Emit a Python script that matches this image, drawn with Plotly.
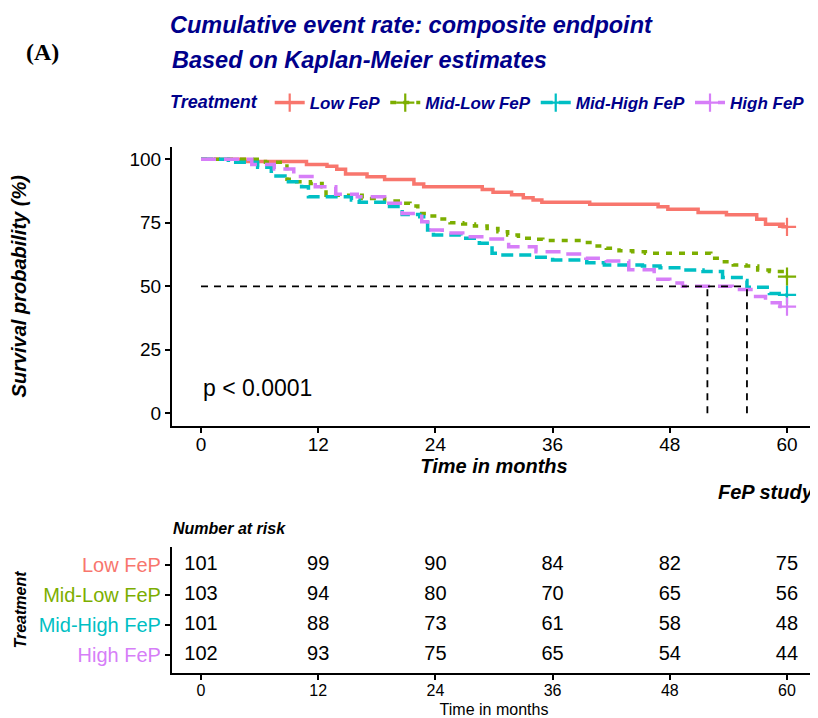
import plotly.graph_objects as go

# ---------------- data ----------------
groups = ["Low FeP", "Mid-Low FeP", "Mid-High FeP", "High FeP"]
colors = ["#F8766D", "#7CAE00", "#00BFC4", "#D67EF8"]
dashes = ["solid", "6px,7px", "12px,6px", "15px,8px"]

# Kaplan-Meier step curves (time in months, survival %)
low_t = [0, 4.5, 10.8, 12.9, 13.9, 14.8, 17.0, 18.8, 21.8, 22.8, 28.8, 29.9, 31.8,
         33.0, 34.0, 34.9, 39.8, 46.8, 47.8, 50.9, 53.8, 56.9, 57.8, 59.6, 60]
low_s = [100, 99.1, 98.0, 97.3, 96.1, 94.2, 93.1, 92.0, 90.3, 89.2, 88.1, 87.0, 86.0,
         84.9, 84.0, 83.1, 82.3, 81.3, 80.3, 79.1, 78.2, 76.4, 74.4, 73.4, 73.4]

midlow_t = [0, 6.6, 8.8, 9.8, 11.2, 12.4, 12.8, 16.5, 18.8, 20.2, 21.4, 22.2, 23.4,
            24.4, 25.5, 26.8, 28.0, 29.3, 30.4, 31.4, 32.5, 34.0, 35.0, 39.3, 40.3,
            41.5, 42.8, 44.2, 45.5, 52.2, 53.3, 54.5, 55.8, 57.0, 58.2, 59.5, 60]
midlow_s = [100, 98.8, 92.1, 91.2, 90.5, 89.2, 85.8, 84.6, 83.6, 82.7, 81.6, 78.7, 77.7,
            76.5, 75.0, 74.5, 73.7, 72.8, 71.5, 70.2, 68.9, 68.5, 68.0, 67.2, 65.9,
            65.0, 64.0, 63.6, 63.0, 61.0, 59.7, 58.4, 58.0, 56.4, 55.8, 53.8, 53.8]

midhigh_t = [0, 2.8, 5.8, 7.2, 8.6, 10.3, 11.0, 15.4, 16.2, 19.3, 20.6, 22.4, 22.8,
             23.2, 23.8, 26.6, 28.5, 29.8, 30.4, 34.0, 36.0, 39.5, 41.3, 45.2, 47.0,
             49.4, 51.4, 53.4, 55.3, 55.9, 58.2, 59.8, 60]
midhigh_s = [100, 98.8, 96.9, 93.4, 91.2, 89.2, 85.3, 84.0, 83.1, 81.4, 78.3, 77.4, 76.1,
             72.2, 70.2, 68.9, 66.9, 63.0, 62.3, 61.4, 60.4, 59.3, 58.4, 58.0, 57.3,
             56.4, 55.8, 53.5, 52.3, 49.6, 47.2, 46.6, 46.6]

high_t = [0, 5.2, 7.5, 9.5, 11.7, 13.8, 16.0, 18.8, 20.6, 22.6, 23.2, 24.7, 26.8,
          29.4, 31.5, 34.3, 37.0, 39.4, 41.5, 43.8, 46.4, 48.0, 49.3, 54.4, 56.5,
          57.8, 59.3, 60]
high_s = [100, 98.0, 96.2, 93.2, 89.2, 86.2, 85.3, 82.7, 78.7, 75.4, 72.2, 71.0, 69.5,
          68.6, 65.6, 63.6, 62.7, 61.0, 60.0, 56.5, 52.8, 51.3, 50.0, 48.7, 46.0,
          43.5, 42.0, 42.0]

# Number at risk table
risk_times = [0, 12, 24, 36, 48, 60]
risk_low = [101, 99, 90, 84, 82, 75]
risk_midlow = [103, 94, 80, 70, 65, 56]
risk_midhigh = [101, 88, 73, 61, 58, 48]
risk_high = [102, 93, 75, 65, 54, 44]

x_ticks = [0, 12, 24, 36, 48, 60]
y_ticks = [0, 25, 50, 75, 100]
p_label = "p < 0.0001"

curves_t = [low_t, midlow_t, midhigh_t, high_t]
curves_s = [low_s, midlow_s, midhigh_s, high_s]
risks = [risk_low, risk_midlow, risk_midhigh, risk_high]

# ---------------- figure ----------------
OFF = 8                 # default page margin of the html body
W, H = 818 - OFF, 718 - OFF
FONT = "Liberation Sans, Arial, Helvetica, sans-serif"
NAVY = "#00008B"


def px_x(p):
    return (p - OFF) / W


def px_y(p):
    return 1 - (p - OFF) / H


def km_median(t, s):
    for i, v in enumerate(s):
        if v < 50:
            return t[i]
        if v == 50:
            return (t[i] + t[i + 1]) / 2
    return None


fig = go.Figure()

for name, col, dash, t, s in zip(groups, colors, dashes, curves_t, curves_s):
    fig.add_trace(go.Scatter(
        x=t, y=s, mode="lines", line=dict(color=col, width=3.5, dash=dash, shape="hv"),
        showlegend=False, hoverinfo="skip", xaxis="x", yaxis="y"))
    fig.add_trace(go.Scatter(
        x=[t[-1]], y=[s[-1]], mode="markers",
        marker=dict(symbol="cross-thin", size=13, line=dict(color=col, width=2.2)),
        showlegend=False, hoverinfo="skip", xaxis="x", yaxis="y"))
    fig.add_trace(go.Scatter(
        x=[None], y=[None], mode="lines+markers", name=name,
        line=dict(color=col, width=3.5, dash=dash),
        marker=dict(symbol="cross-thin", size=13, line=dict(color=col, width=2.2)),
        xaxis="x", yaxis="y"))

# median lines
medians = [m for m in (km_median(t, s) for t, s in zip(curves_t, curves_s)) if m is not None]
if medians:
    fig.add_trace(go.Scatter(x=[0, max(medians)], y=[50, 50], mode="lines",
                             line=dict(color="black", width=1.8, dash="7px,6px"),
                             showlegend=False, hoverinfo="skip", xaxis="x", yaxis="y"))
    for m in medians:
        fig.add_trace(go.Scatter(x=[m, m], y=[0, 50], mode="lines",
                                 line=dict(color="black", width=1.8, dash="7px,6px"),
                                 showlegend=False, hoverinfo="skip", xaxis="x", yaxis="y"))

# risk table numbers
row_pos = [4, 3, 2, 1]
for r, rk in zip(row_pos, risks):
    fig.add_trace(go.Scatter(
        x=risk_times, y=[r] * len(risk_times), mode="text",
        text=[str(v) for v in rk], textposition="middle center",
        textfont=dict(family=FONT, size=20, color="black"),
        showlegend=False, hoverinfo="skip", xaxis="x2", yaxis="y2"))

axis_common = dict(showline=True, linecolor="black", linewidth=1.5, ticks="outside",
                   ticklen=5, tickwidth=1.5, tickcolor="black", showgrid=False,
                   zeroline=False, mirror=False)

main_x_dom = [px_x(171.7), px_x(816.3)]

fig.update_layout(
    width=W, height=H,
    margin=dict(l=0, r=0, t=0, b=0),
    paper_bgcolor="white", plot_bgcolor="white",
    font=dict(family=FONT, color="black"),
    xaxis=dict(domain=main_x_dom, range=[-3, 63], tickvals=x_ticks,
               tickfont=dict(size=19, color="black"), ticklabelstandoff=-5,
               title=dict(text="Time in months", standoff=4,
                          font=dict(size=20, color="black", weight="bold", style="italic")),
               anchor="y", **axis_common),
    yaxis=dict(domain=[px_y(426), px_y(146.6)], range=[-5, 105], tickvals=y_ticks,
               tickfont=dict(size=19, color="black"),
               title=dict(text="Survival probability (%)", standoff=100,
                          font=dict(size=20, color="black", weight="bold", style="italic")),
               anchor="x", **axis_common),
    xaxis2=dict(domain=main_x_dom, range=[-3, 63], tickvals=x_ticks,
                tickfont=dict(size=16, color="black"), ticklabelstandoff=-3,
                title=dict(text="Time in months", standoff=7,
                           font=dict(size=16, color="black")),
                anchor="y2", **axis_common),
    yaxis2=dict(domain=[px_y(673.3), px_y(546.7)], range=[0.4, 4.6], tickvals=row_pos,
                ticktext=[f"<span style='color:{c}'>{g}</span>" for g, c in zip(groups, colors)],
                tickfont=dict(size=20),
                title=dict(text="Treatment", standoff=8,
                           font=dict(size=16, color="black", weight="bold", style="italic")),
                anchor="x2", **axis_common),
    title=dict(text="Cumulative event rate: composite endpoint",
               x=px_x(170), xanchor="left", y=px_y(25), yanchor="middle",
               font=dict(size=23.5, color=NAVY, weight="bold", style="italic")),
    legend=dict(orientation="h", x=px_x(489), xanchor="center", y=px_y(103), yanchor="middle",
                title=dict(text="Treatment ", side="left",
                           font=dict(size=18, color=NAVY, weight="bold", style="italic")),
                font=dict(size=17, color=NAVY, weight="bold", style="italic"),
                bgcolor="rgba(0,0,0,0)", itemwidth=30, tracegroupgap=0),
    showlegend=True,
)

fig.add_annotation(text="Based on Kaplan-Meier estimates", xref="paper", yref="paper",
                   x=px_x(170), y=px_y(60), xanchor="left", yanchor="middle", showarrow=False,
                   font=dict(size=23.5, color=NAVY, weight="bold", style="italic"))
fig.add_annotation(text="(A)", xref="paper", yref="paper",
                   x=px_x(42.5), y=px_y(52), xanchor="center", yanchor="middle", showarrow=False,
                   font=dict(family="Liberation Serif, Times New Roman, serif", size=24,
                             color="black", weight="bold"))
fig.add_annotation(text=p_label, xref="x", yref="y", x=0, y=10,
                   xanchor="left", yanchor="middle", showarrow=False,
                   font=dict(size=23, color="black"))
fig.add_annotation(text="FeP study", xref="paper", yref="paper",
                   x=px_x(816), y=px_y(492), xanchor="right", yanchor="middle", showarrow=False,
                   font=dict(size=20, color="black", weight="bold", style="italic"))
fig.add_annotation(text="Number at risk", xref="paper", yref="paper",
                   x=px_x(171), y=px_y(528), xanchor="left", yanchor="middle", showarrow=False,
                   font=dict(size=16, color="black", weight="bold", style="italic"))

fig.write_html("out.html")
